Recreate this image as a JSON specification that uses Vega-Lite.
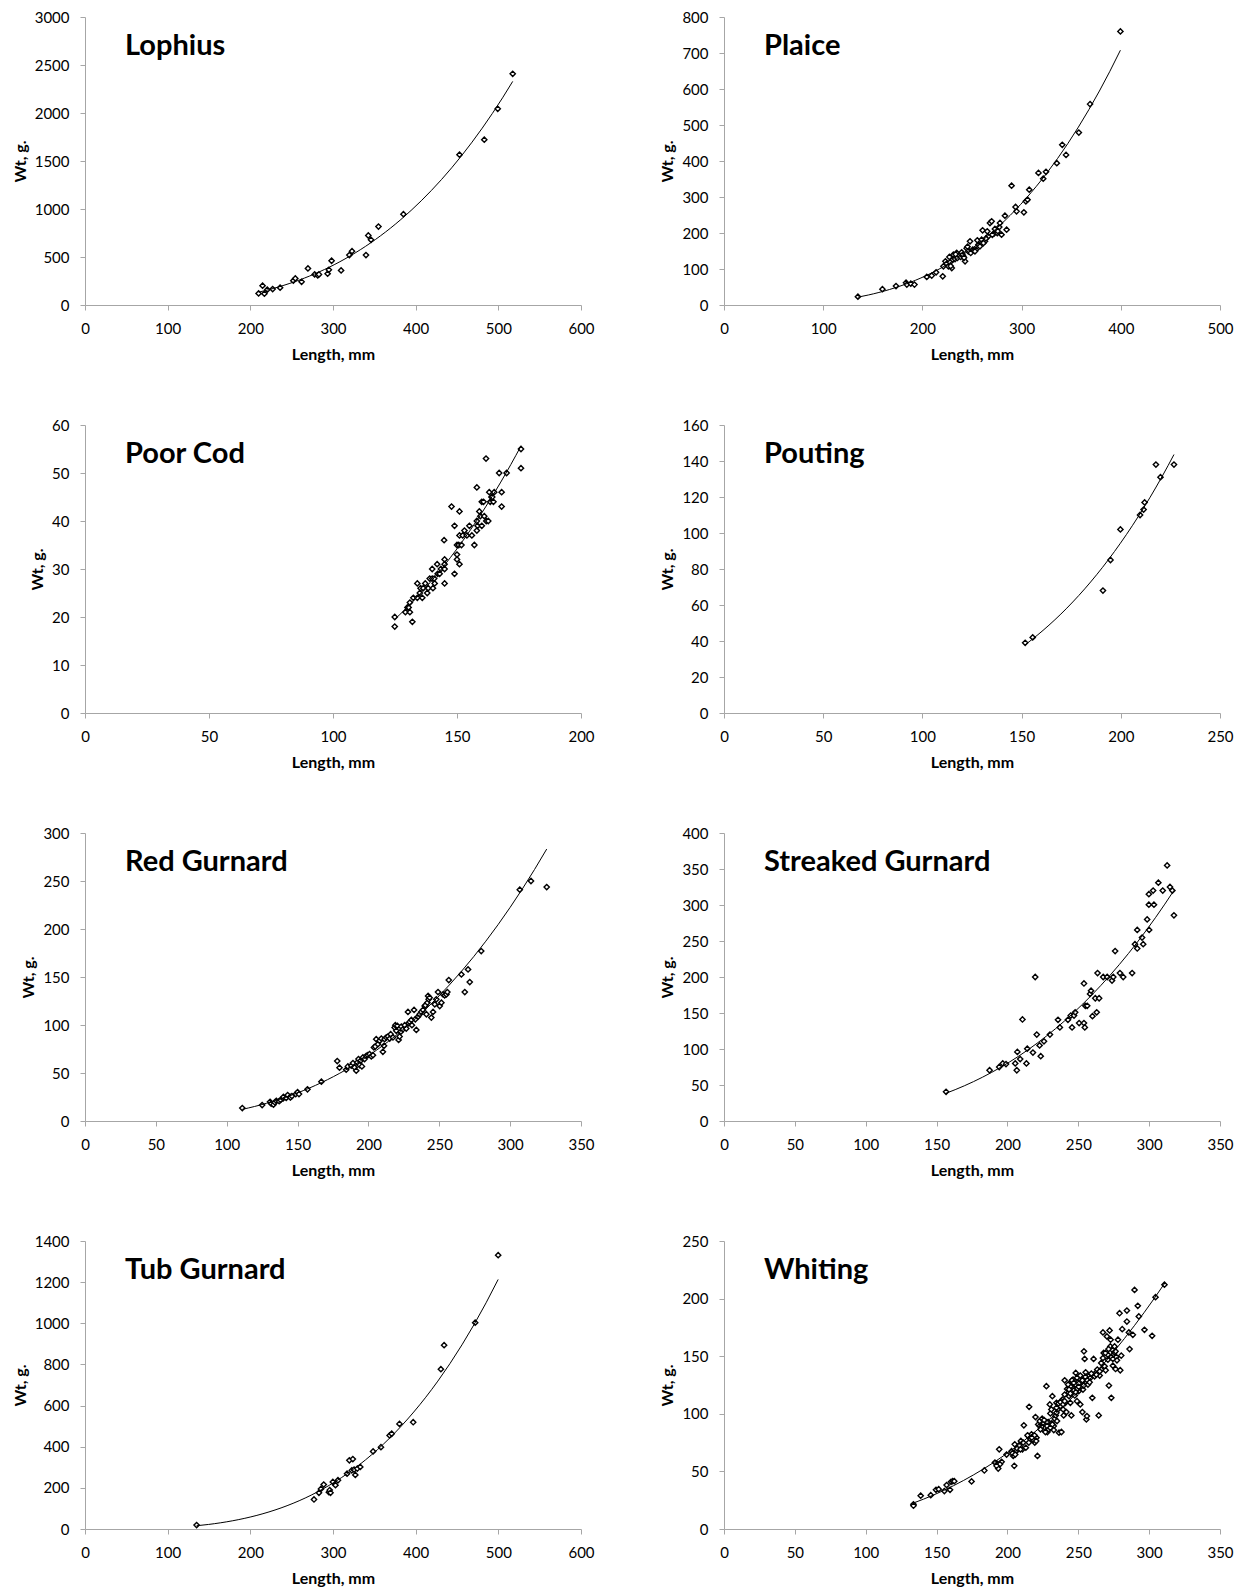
{
  "$schema": "https://vega.github.io/schema/vega-lite/v6.json",
  "background": "white",
  "padding": {"left": 12, "top": 10, "right": 5, "bottom": 5},
  "columns": 2,
  "spacing": {"row": 120, "column": 143},
  "bounds": "flush",
  "align": "all",
  "concat": [
    {
      "data": {"name": "lophius"},
      "title": "Lophius",
      "width": 496, "height": 288,
      "encoding": {
        "x": {"field": "length", "type": "quantitative", "title": "Length, mm", "scale": {"domain": [0, 600], "nice": false}, "axis": {"values": [0, 100, 200, 300, 400, 500, 600], "format": "d"}},
        "y": {"field": "weight", "type": "quantitative", "title": "Wt, g.", "scale": {"domain": [0, 3000], "nice": false}, "axis": {"values": [0, 500, 1000, 1500, 2000, 2500, 3000], "format": "d"}}
      },
      "layer": [
        {"mark": {"type": "point", "shape": "diamond", "size": 28, "filled": false, "fill": "white", "fillOpacity": 1, "stroke": "black", "strokeWidth": 1.4, "opacity": 1}},
        {"transform": [{"regression": "weight", "on": "length", "method": "pow"}], "mark": {"type": "line", "color": "black", "strokeWidth": 1}}
      ]
    },
    {
      "data": {"name": "plaice"},
      "title": "Plaice",
      "width": 496, "height": 288,
      "encoding": {
        "x": {"field": "length", "type": "quantitative", "title": "Length, mm", "scale": {"domain": [0, 500], "nice": false}, "axis": {"values": [0, 100, 200, 300, 400, 500], "format": "d"}},
        "y": {"field": "weight", "type": "quantitative", "title": "Wt, g.", "scale": {"domain": [0, 800], "nice": false}, "axis": {"values": [0, 100, 200, 300, 400, 500, 600, 700, 800], "format": "d"}}
      },
      "layer": [
        {"mark": {"type": "point", "shape": "diamond", "size": 28, "filled": false, "fill": "white", "fillOpacity": 1, "stroke": "black", "strokeWidth": 1.4, "opacity": 1}},
        {"transform": [{"regression": "weight", "on": "length", "method": "pow"}], "mark": {"type": "line", "color": "black", "strokeWidth": 1}}
      ]
    },
    {
      "data": {"name": "poorcod"},
      "title": "Poor Cod",
      "width": 496, "height": 288,
      "encoding": {
        "x": {"field": "length", "type": "quantitative", "title": "Length, mm", "scale": {"domain": [0, 200], "nice": false}, "axis": {"values": [0, 50, 100, 150, 200], "format": "d"}},
        "y": {"field": "weight", "type": "quantitative", "title": "Wt, g.", "scale": {"domain": [0, 60], "nice": false}, "axis": {"values": [0, 10, 20, 30, 40, 50, 60], "format": "d"}}
      },
      "layer": [
        {"mark": {"type": "point", "shape": "diamond", "size": 28, "filled": false, "fill": "white", "fillOpacity": 1, "stroke": "black", "strokeWidth": 1.4, "opacity": 1}},
        {"transform": [{"regression": "weight", "on": "length", "method": "pow"}], "mark": {"type": "line", "color": "black", "strokeWidth": 1}}
      ]
    },
    {
      "data": {"name": "pouting"},
      "title": "Pouting",
      "width": 496, "height": 288,
      "encoding": {
        "x": {"field": "length", "type": "quantitative", "title": "Length, mm", "scale": {"domain": [0, 250], "nice": false}, "axis": {"values": [0, 50, 100, 150, 200, 250], "format": "d"}},
        "y": {"field": "weight", "type": "quantitative", "title": "Wt, g.", "scale": {"domain": [0, 160], "nice": false}, "axis": {"values": [0, 20, 40, 60, 80, 100, 120, 140, 160], "format": "d"}}
      },
      "layer": [
        {"mark": {"type": "point", "shape": "diamond", "size": 28, "filled": false, "fill": "white", "fillOpacity": 1, "stroke": "black", "strokeWidth": 1.4, "opacity": 1}},
        {"transform": [{"regression": "weight", "on": "length", "method": "pow"}], "mark": {"type": "line", "color": "black", "strokeWidth": 1}}
      ]
    },
    {
      "data": {"name": "redgurnard"},
      "title": "Red Gurnard",
      "width": 496, "height": 288,
      "encoding": {
        "x": {"field": "length", "type": "quantitative", "title": "Length, mm", "scale": {"domain": [0, 350], "nice": false}, "axis": {"values": [0, 50, 100, 150, 200, 250, 300, 350], "format": "d"}},
        "y": {"field": "weight", "type": "quantitative", "title": "Wt, g.", "scale": {"domain": [0, 300], "nice": false}, "axis": {"values": [0, 50, 100, 150, 200, 250, 300], "format": "d"}}
      },
      "layer": [
        {"mark": {"type": "point", "shape": "diamond", "size": 28, "filled": false, "fill": "white", "fillOpacity": 1, "stroke": "black", "strokeWidth": 1.4, "opacity": 1}},
        {"transform": [{"regression": "weight", "on": "length", "method": "pow"}], "mark": {"type": "line", "color": "black", "strokeWidth": 1}}
      ]
    },
    {
      "data": {"name": "streakedgurnard"},
      "title": "Streaked Gurnard",
      "width": 496, "height": 288,
      "encoding": {
        "x": {"field": "length", "type": "quantitative", "title": "Length, mm", "scale": {"domain": [0, 350], "nice": false}, "axis": {"values": [0, 50, 100, 150, 200, 250, 300, 350], "format": "d"}},
        "y": {"field": "weight", "type": "quantitative", "title": "Wt, g.", "scale": {"domain": [0, 400], "nice": false}, "axis": {"values": [0, 50, 100, 150, 200, 250, 300, 350, 400], "format": "d"}}
      },
      "layer": [
        {"mark": {"type": "point", "shape": "diamond", "size": 28, "filled": false, "fill": "white", "fillOpacity": 1, "stroke": "black", "strokeWidth": 1.4, "opacity": 1}},
        {"transform": [{"regression": "weight", "on": "length", "method": "pow"}], "mark": {"type": "line", "color": "black", "strokeWidth": 1}}
      ]
    },
    {
      "data": {"name": "tubgurnard"},
      "title": "Tub Gurnard",
      "width": 496, "height": 288,
      "encoding": {
        "x": {"field": "length", "type": "quantitative", "title": "Length, mm", "scale": {"domain": [0, 600], "nice": false}, "axis": {"values": [0, 100, 200, 300, 400, 500, 600], "format": "d"}},
        "y": {"field": "weight", "type": "quantitative", "title": "Wt, g.", "scale": {"domain": [0, 1400], "nice": false}, "axis": {"values": [0, 200, 400, 600, 800, 1000, 1200, 1400], "format": "d"}}
      },
      "layer": [
        {"mark": {"type": "point", "shape": "diamond", "size": 28, "filled": false, "fill": "white", "fillOpacity": 1, "stroke": "black", "strokeWidth": 1.4, "opacity": 1}},
        {"transform": [{"regression": "weight", "on": "length", "method": "pow"}], "mark": {"type": "line", "color": "black", "strokeWidth": 1}}
      ]
    },
    {
      "data": {"name": "whiting"},
      "title": "Whiting",
      "width": 496, "height": 288,
      "encoding": {
        "x": {"field": "length", "type": "quantitative", "title": "Length, mm", "scale": {"domain": [0, 350], "nice": false}, "axis": {"values": [0, 50, 100, 150, 200, 250, 300, 350], "format": "d"}},
        "y": {"field": "weight", "type": "quantitative", "title": "Wt, g.", "scale": {"domain": [0, 250], "nice": false}, "axis": {"values": [0, 50, 100, 150, 200, 250], "format": "d"}}
      },
      "layer": [
        {"mark": {"type": "point", "shape": "diamond", "size": 28, "filled": false, "fill": "white", "fillOpacity": 1, "stroke": "black", "strokeWidth": 1.4, "opacity": 1}},
        {"transform": [{"regression": "weight", "on": "length", "method": "pow"}], "mark": {"type": "line", "color": "black", "strokeWidth": 1}}
      ]
    }
  ],
  "datasets": {
    "lophius": [
      {"length": 210, "weight": 121}, {"length": 214.8, "weight": 201}, {"length": 217, "weight": 118}, {"length": 220.5, "weight": 159},
      {"length": 227, "weight": 166}, {"length": 236, "weight": 180}, {"length": 252, "weight": 253}, {"length": 254.4, "weight": 277},
      {"length": 262, "weight": 242}, {"length": 269.7, "weight": 381}, {"length": 277.8, "weight": 319}, {"length": 281.6, "weight": 308},
      {"length": 283, "weight": 319}, {"length": 293.5, "weight": 326}, {"length": 295, "weight": 367}, {"length": 298.3, "weight": 461},
      {"length": 309.8, "weight": 360}, {"length": 319.8, "weight": 520}, {"length": 323, "weight": 561}, {"length": 339.9, "weight": 520},
      {"length": 342.7, "weight": 724}, {"length": 346, "weight": 679}, {"length": 355, "weight": 817}, {"length": 385.2, "weight": 946},
      {"length": 453, "weight": 1566}, {"length": 483, "weight": 1722}, {"length": 499.3, "weight": 2044}, {"length": 517.4, "weight": 2408}
    ],
    "plaice": [
      {"length": 135, "weight": 23}, {"length": 159.7, "weight": 44}, {"length": 173.4, "weight": 52.5}, {"length": 183.5, "weight": 62},
      {"length": 184.3, "weight": 56.6}, {"length": 188.3, "weight": 59.3}, {"length": 192, "weight": 56.6}, {"length": 204.4, "weight": 77.9},
      {"length": 209.4, "weight": 81.6}, {"length": 213.8, "weight": 90.8}, {"length": 220.5, "weight": 79.7}, {"length": 221.2, "weight": 107.5},
      {"length": 223.2, "weight": 121.3}, {"length": 224.5, "weight": 114.9}, {"length": 226.2, "weight": 107.5}, {"length": 227.2, "weight": 133.4},
      {"length": 227.9, "weight": 118.6}, {"length": 229.6, "weight": 102.8}, {"length": 230.6, "weight": 126}, {"length": 231.2, "weight": 139.9},
      {"length": 232.9, "weight": 127.8}, {"length": 234.6, "weight": 144.5}, {"length": 235.3, "weight": 130.6}, {"length": 237.3, "weight": 137.1},
      {"length": 238.6, "weight": 133.4}, {"length": 239.6, "weight": 146.3}, {"length": 241.3, "weight": 135.2}, {"length": 243, "weight": 121.3},
      {"length": 244.6, "weight": 157.4}, {"length": 246.3, "weight": 149.1}, {"length": 248, "weight": 176.9}, {"length": 248.7, "weight": 144.5},
      {"length": 250.7, "weight": 153.7}, {"length": 252, "weight": 151.9}, {"length": 254, "weight": 153.7}, {"length": 255.4, "weight": 179.6},
      {"length": 256.4, "weight": 167.6}, {"length": 258, "weight": 163}, {"length": 259.7, "weight": 181.5}, {"length": 260.7, "weight": 207.4},
      {"length": 263.1, "weight": 176.9}, {"length": 265.4, "weight": 204.6}, {"length": 266.4, "weight": 190.7}, {"length": 268.1, "weight": 227.8},
      {"length": 269.8, "weight": 232.4}, {"length": 272.1, "weight": 198.1}, {"length": 273.1, "weight": 211.1}, {"length": 275.5, "weight": 200},
      {"length": 277.5, "weight": 216.6}, {"length": 278.2, "weight": 227.8}, {"length": 279.8, "weight": 195.4}, {"length": 283.2, "weight": 248.1},
      {"length": 284.9, "weight": 209.2}, {"length": 289.9, "weight": 331.4}, {"length": 293.9, "weight": 272.2}, {"length": 294.9, "weight": 260.1},
      {"length": 302.3, "weight": 257.4}, {"length": 304.3, "weight": 287.9}, {"length": 306, "weight": 292.5}, {"length": 307.7, "weight": 320.3},
      {"length": 317, "weight": 367}, {"length": 321.8, "weight": 351}, {"length": 324.6, "weight": 370}, {"length": 335.5, "weight": 394},
      {"length": 341, "weight": 445}, {"length": 344.8, "weight": 417}, {"length": 357.7, "weight": 479}, {"length": 369, "weight": 558},
      {"length": 399.6, "weight": 760},
      {"length": 228.5, "weight": 108}, {"length": 233.5, "weight": 141}, {"length": 240.5, "weight": 139}, {"length": 242, "weight": 131},
      {"length": 245.5, "weight": 162}, {"length": 253, "weight": 149}, {"length": 261.5, "weight": 172}, {"length": 264, "weight": 185},
      {"length": 270.5, "weight": 195}, {"length": 276, "weight": 205}
    ],
    "poorcod": [
      {"length": 124.9, "weight": 20}, {"length": 124.9, "weight": 18}, {"length": 129.2, "weight": 21}, {"length": 130, "weight": 22},
      {"length": 130.5, "weight": 22}, {"length": 131, "weight": 23}, {"length": 131, "weight": 21}, {"length": 132, "weight": 19},
      {"length": 132.4, "weight": 24}, {"length": 134, "weight": 27}, {"length": 134, "weight": 24}, {"length": 135, "weight": 25},
      {"length": 135.3, "weight": 26}, {"length": 136, "weight": 24}, {"length": 136.4, "weight": 26}, {"length": 137.2, "weight": 27},
      {"length": 138, "weight": 25}, {"length": 138.4, "weight": 26}, {"length": 139, "weight": 28}, {"length": 140, "weight": 28},
      {"length": 140, "weight": 30}, {"length": 140.3, "weight": 26}, {"length": 140.8, "weight": 28}, {"length": 141, "weight": 27},
      {"length": 142, "weight": 31}, {"length": 142.2, "weight": 29}, {"length": 143, "weight": 29}, {"length": 143.5, "weight": 30},
      {"length": 144.8, "weight": 36}, {"length": 145, "weight": 32}, {"length": 145, "weight": 31}, {"length": 145, "weight": 27},
      {"length": 145, "weight": 30}, {"length": 147.8, "weight": 43}, {"length": 149, "weight": 29}, {"length": 149, "weight": 39},
      {"length": 150, "weight": 33}, {"length": 150, "weight": 35}, {"length": 150, "weight": 32}, {"length": 150.7, "weight": 35},
      {"length": 151, "weight": 42}, {"length": 151, "weight": 37}, {"length": 151, "weight": 31}, {"length": 151.8, "weight": 35},
      {"length": 152.3, "weight": 37}, {"length": 153, "weight": 38}, {"length": 154, "weight": 37}, {"length": 155, "weight": 39},
      {"length": 156, "weight": 37}, {"length": 157, "weight": 35}, {"length": 158, "weight": 47}, {"length": 158, "weight": 40},
      {"length": 158, "weight": 38}, {"length": 158.3, "weight": 39}, {"length": 159, "weight": 42}, {"length": 159.4, "weight": 41},
      {"length": 160, "weight": 44}, {"length": 160, "weight": 39}, {"length": 160.7, "weight": 44}, {"length": 161, "weight": 41},
      {"length": 161.7, "weight": 53}, {"length": 161.8, "weight": 40}, {"length": 162.6, "weight": 40}, {"length": 163, "weight": 46},
      {"length": 163.4, "weight": 44}, {"length": 163.9, "weight": 45}, {"length": 164.2, "weight": 45}, {"length": 164.7, "weight": 44},
      {"length": 165, "weight": 46}, {"length": 167, "weight": 50}, {"length": 168, "weight": 46}, {"length": 168, "weight": 43},
      {"length": 170, "weight": 50}, {"length": 175.8, "weight": 55}, {"length": 175.8, "weight": 51}
    ],
    "pouting": [
      {"length": 151.8, "weight": 39}, {"length": 155.6, "weight": 42}, {"length": 191, "weight": 68}, {"length": 194.8, "weight": 85},
      {"length": 199.8, "weight": 102}, {"length": 209.7, "weight": 110}, {"length": 211.5, "weight": 113}, {"length": 212, "weight": 117},
      {"length": 217.7, "weight": 138}, {"length": 220, "weight": 131}, {"length": 226.8, "weight": 138}
    ],
    "redgurnard": [
      {"length": 111, "weight": 13.5}, {"length": 125, "weight": 16.6}, {"length": 130.6, "weight": 20}, {"length": 131.4, "weight": 18},
      {"length": 133, "weight": 17}, {"length": 134, "weight": 19.4}, {"length": 135, "weight": 21}, {"length": 137, "weight": 20.7},
      {"length": 138, "weight": 22}, {"length": 139.8, "weight": 23.5}, {"length": 140, "weight": 25}, {"length": 142, "weight": 24},
      {"length": 143, "weight": 27}, {"length": 144.8, "weight": 25}, {"length": 145, "weight": 24.5}, {"length": 146, "weight": 26},
      {"length": 148.7, "weight": 28}, {"length": 150, "weight": 30}, {"length": 151, "weight": 28}, {"length": 157, "weight": 33},
      {"length": 166.8, "weight": 41},
      {"length": 178, "weight": 62.4}, {"length": 179.6, "weight": 55.5}, {"length": 184.3, "weight": 53.4}, {"length": 185.5, "weight": 56.9},
      {"length": 187.9, "weight": 57.6}, {"length": 189.1, "weight": 60.3}, {"length": 190.2, "weight": 55.8}, {"length": 191.4, "weight": 52.4},
      {"length": 192.1, "weight": 61}, {"length": 193, "weight": 64.5}, {"length": 193.8, "weight": 58.3}, {"length": 194.5, "weight": 62.8},
      {"length": 195.4, "weight": 56.9}, {"length": 196.1, "weight": 66.2}, {"length": 197.3, "weight": 64.5}, {"length": 198.5, "weight": 67.9},
      {"length": 199.6, "weight": 68.6}, {"length": 200.8, "weight": 69.7}, {"length": 202, "weight": 67.3}, {"length": 203.2, "weight": 68.6},
      {"length": 203.9, "weight": 76.6}, {"length": 204.8, "weight": 77.6}, {"length": 205.5, "weight": 85.2}, {"length": 206.7, "weight": 80},
      {"length": 207.9, "weight": 83.5}, {"length": 209.1, "weight": 85.9}, {"length": 210.2, "weight": 72.1}, {"length": 211, "weight": 78.3},
      {"length": 211.4, "weight": 85.2}, {"length": 212.6, "weight": 87}, {"length": 213.8, "weight": 88}, {"length": 215, "weight": 85.9},
      {"length": 215.7, "weight": 90.4}, {"length": 217.3, "weight": 87}, {"length": 218.5, "weight": 97.3}, {"length": 219, "weight": 99.8},
      {"length": 219.7, "weight": 93.9}, {"length": 220.4, "weight": 99.1}, {"length": 221.3, "weight": 84.5}, {"length": 222, "weight": 88},
      {"length": 222.7, "weight": 92.8}, {"length": 223.2, "weight": 98.4}, {"length": 224.4, "weight": 95.6}, {"length": 225.6, "weight": 99.8},
      {"length": 226.7, "weight": 96.3}, {"length": 227.9, "weight": 113.6}, {"length": 228.4, "weight": 101.8}, {"length": 229.1, "weight": 103.2},
      {"length": 230.3, "weight": 105.3}, {"length": 230.7, "weight": 99.8}, {"length": 232.2, "weight": 115.7}, {"length": 233.1, "weight": 106},
      {"length": 233.8, "weight": 94.9}, {"length": 235, "weight": 108.7}, {"length": 236.2, "weight": 111.2}, {"length": 237.3, "weight": 113.6},
      {"length": 238.5, "weight": 115.7}, {"length": 239.7, "weight": 119.8}, {"length": 240.2, "weight": 120.5}, {"length": 240.9, "weight": 111.2},
      {"length": 241.6, "weight": 123.3}, {"length": 242.1, "weight": 130.2}, {"length": 242.5, "weight": 126.7}, {"length": 243.2, "weight": 128.5},
      {"length": 244.4, "weight": 107.7}, {"length": 245.6, "weight": 113.6}, {"length": 246.8, "weight": 121.5}, {"length": 247.9, "weight": 126.7},
      {"length": 249.1, "weight": 134.3}, {"length": 250.3, "weight": 119.8}, {"length": 251.5, "weight": 123.3}, {"length": 252.7, "weight": 131.9},
      {"length": 253.8, "weight": 130.9}, {"length": 255, "weight": 131.9}, {"length": 255.7, "weight": 134.3}, {"length": 256.7, "weight": 146.8},
      {"length": 265.6, "weight": 152.7}, {"length": 268, "weight": 134.3}, {"length": 270.3, "weight": 157.9}, {"length": 271.5, "weight": 144.7},
      {"length": 279.6, "weight": 177}, {"length": 306.8, "weight": 241}, {"length": 314.7, "weight": 250}, {"length": 325.8, "weight": 243.7}
    ],
    "streakedgurnard": [
      {"length": 156.7, "weight": 40.5}, {"length": 187.4, "weight": 70.5}, {"length": 194.2, "weight": 75}, {"length": 196.7, "weight": 80},
      {"length": 199, "weight": 79}, {"length": 205.5, "weight": 80}, {"length": 206.6, "weight": 70.5}, {"length": 207, "weight": 96},
      {"length": 209, "weight": 86}, {"length": 210.6, "weight": 141}, {"length": 213.4, "weight": 80}, {"length": 214, "weight": 100.5},
      {"length": 218, "weight": 95}, {"length": 219.6, "weight": 200}, {"length": 220.7, "weight": 120}, {"length": 222.7, "weight": 105},
      {"length": 223.5, "weight": 90}, {"length": 225.8, "weight": 110.6}, {"length": 230, "weight": 120}, {"length": 235.7, "weight": 140.5},
      {"length": 237, "weight": 130}, {"length": 242.7, "weight": 140.5}, {"length": 244.7, "weight": 146.5}, {"length": 245.6, "weight": 130},
      {"length": 247, "weight": 146.5}, {"length": 247.8, "weight": 151}, {"length": 250.6, "weight": 136}, {"length": 254, "weight": 191},
      {"length": 254, "weight": 136}, {"length": 254.6, "weight": 130}, {"length": 255, "weight": 160}, {"length": 256.3, "weight": 160},
      {"length": 258.3, "weight": 176.5}, {"length": 259, "weight": 181}, {"length": 260, "weight": 145.6}, {"length": 262, "weight": 170.5},
      {"length": 263, "weight": 151}, {"length": 263.6, "weight": 205.5}, {"length": 264.7, "weight": 170.5}, {"length": 267.6, "weight": 200},
      {"length": 270.4, "weight": 200}, {"length": 273.8, "weight": 195}, {"length": 274.7, "weight": 200}, {"length": 276, "weight": 236},
      {"length": 279.4, "weight": 205.5}, {"length": 281.7, "weight": 200}, {"length": 288, "weight": 205.5}, {"length": 290, "weight": 245.6},
      {"length": 291.6, "weight": 239.6}, {"length": 291.6, "weight": 265.4}, {"length": 295, "weight": 254.8}, {"length": 295.8, "weight": 245.6},
      {"length": 298.6, "weight": 280}, {"length": 300, "weight": 265.4}, {"length": 299.8, "weight": 300.5}, {"length": 299.8, "weight": 315},
      {"length": 302.8, "weight": 320}, {"length": 303.4, "weight": 300.5}, {"length": 306.5, "weight": 331}, {"length": 309.6, "weight": 320},
      {"length": 312.7, "weight": 355}, {"length": 314.7, "weight": 325}, {"length": 316.4, "weight": 320}, {"length": 317.5, "weight": 285.7}
    ],
    "tubgurnard": [
      {"length": 135, "weight": 19}, {"length": 277, "weight": 143.5}, {"length": 283, "weight": 176}, {"length": 285.4, "weight": 195},
      {"length": 288.8, "weight": 216}, {"length": 295, "weight": 179}, {"length": 296, "weight": 189}, {"length": 297, "weight": 176},
      {"length": 299.8, "weight": 229}, {"length": 303, "weight": 213}, {"length": 306, "weight": 237}, {"length": 317, "weight": 269},
      {"length": 319.8, "weight": 334}, {"length": 324, "weight": 340}, {"length": 322.7, "weight": 285}, {"length": 325.5, "weight": 289},
      {"length": 327, "weight": 263}, {"length": 329.4, "weight": 293.5}, {"length": 333, "weight": 301.6}, {"length": 348.5, "weight": 377},
      {"length": 358, "weight": 398}, {"length": 368.5, "weight": 455}, {"length": 371, "weight": 463}, {"length": 380.4, "weight": 511},
      {"length": 397, "weight": 519}, {"length": 430.5, "weight": 777}, {"length": 434.4, "weight": 893.5}, {"length": 472, "weight": 1003},
      {"length": 499.8, "weight": 1331}
    ],
    "whiting": [
      {"length": 133.7, "weight": 21.4}, {"length": 133.7, "weight": 20.2}, {"length": 138.8, "weight": 28.9}, {"length": 145.9, "weight": 29.4},
      {"length": 149.6, "weight": 34}, {"length": 151.5, "weight": 34.6}, {"length": 155.5, "weight": 32.9}, {"length": 157.1, "weight": 38.1},
      {"length": 159.5, "weight": 34}, {"length": 160.2, "weight": 41}, {"length": 161.4, "weight": 41.5}, {"length": 162.5, "weight": 41.5},
      {"length": 174.7, "weight": 41.3}, {"length": 183.7, "weight": 50.8}, {"length": 191.2, "weight": 57.7}, {"length": 193, "weight": 56.5},
      {"length": 193.5, "weight": 52.5}, {"length": 194.2, "weight": 69.2}, {"length": 195.9, "weight": 58.3}, {"length": 199.4, "weight": 64.6},
      {"length": 202.9, "weight": 67.5}, {"length": 204.1, "weight": 63.4}, {"length": 204.8, "weight": 54.8}, {"length": 205.2, "weight": 73.5},
      {"length": 206.4, "weight": 67.8}, {"length": 208.3, "weight": 69.8}, {"length": 209.5, "weight": 76.4}, {"length": 210.6, "weight": 69.2},
      {"length": 211.6, "weight": 90}, {"length": 213, "weight": 70.6}, {"length": 214.6, "weight": 80.7}, {"length": 215.3, "weight": 106.1},
      {"length": 216.3, "weight": 77.8}, {"length": 217, "weight": 82.2}, {"length": 218.1, "weight": 80.7}, {"length": 219.3, "weight": 75},
      {"length": 219.8, "weight": 97.2}, {"length": 220.5, "weight": 79.3}, {"length": 221.2, "weight": 63.4}, {"length": 221.7, "weight": 90.8},
      {"length": 222.8, "weight": 89.4}, {"length": 224, "weight": 92.3}, {"length": 224.7, "weight": 93.7}, {"length": 225.2, "weight": 86.5},
      {"length": 226.3, "weight": 90.8}, {"length": 227.1, "weight": 89.4}, {"length": 227.5, "weight": 124}, {"length": 228.2, "weight": 84.2},
      {"length": 228.9, "weight": 92.8}, {"length": 229.9, "weight": 108.1}, {"length": 230.3, "weight": 100.3}, {"length": 231, "weight": 103.8},
      {"length": 231.3, "weight": 91.7}, {"length": 231.7, "weight": 115.3}, {"length": 232.7, "weight": 89.4}, {"length": 233.4, "weight": 95.7},
      {"length": 234.1, "weight": 98.6}, {"length": 234.6, "weight": 109.5}, {"length": 235, "weight": 93.7}, {"length": 235.7, "weight": 103.8},
      {"length": 236.4, "weight": 83.6}, {"length": 237.4, "weight": 106.7}, {"length": 238.1, "weight": 84.2}, {"length": 238.8, "weight": 112.4},
      {"length": 239.3, "weight": 103.8}, {"length": 239.7, "weight": 98.6}, {"length": 240.4, "weight": 129.1}, {"length": 240.9, "weight": 109.5},
      {"length": 241.6, "weight": 101.5}, {"length": 242.1, "weight": 121.6}, {"length": 242.8, "weight": 117.6}, {"length": 243.5, "weight": 115.3},
      {"length": 243.9, "weight": 126.3}, {"length": 244.4, "weight": 109.5}, {"length": 245.1, "weight": 98.6}, {"length": 245.8, "weight": 119.6},
      {"length": 246.3, "weight": 129.7}, {"length": 246.8, "weight": 122.5}, {"length": 247.5, "weight": 115.9}, {"length": 248.2, "weight": 135.5},
      {"length": 248.6, "weight": 123.9}, {"length": 249.1, "weight": 111}, {"length": 249.8, "weight": 127.4}, {"length": 250.3, "weight": 119.6},
      {"length": 251, "weight": 130.3}, {"length": 251.4, "weight": 108.1}, {"length": 252.2, "weight": 125.4}, {"length": 252.9, "weight": 101.5},
      {"length": 253.3, "weight": 121.1}, {"length": 254, "weight": 154.2}, {"length": 254.5, "weight": 147.6}, {"length": 254.5, "weight": 129.7},
      {"length": 255.2, "weight": 136}, {"length": 255.7, "weight": 95.1}, {"length": 256.1, "weight": 98}, {"length": 256.8, "weight": 125.4},
      {"length": 257.5, "weight": 132.6}, {"length": 258.5, "weight": 131.1}, {"length": 259.9, "weight": 113.9}, {"length": 260.8, "weight": 147.6},
      {"length": 261.5, "weight": 132.6}, {"length": 262.7, "weight": 136}, {"length": 263.4, "weight": 138.4}, {"length": 264.4, "weight": 98.6},
      {"length": 265.1, "weight": 133.2}, {"length": 266.2, "weight": 138.4}, {"length": 267.4, "weight": 170.6}, {"length": 267.9, "weight": 152.8},
      {"length": 268.6, "weight": 141.2}, {"length": 269.3, "weight": 137.8}, {"length": 270.2, "weight": 167.2}, {"length": 270.9, "weight": 147},
      {"length": 271.6, "weight": 124.5}, {"length": 272.1, "weight": 172.4}, {"length": 272.6, "weight": 158.5}, {"length": 272.8, "weight": 164.3},
      {"length": 273.3, "weight": 113.9}, {"length": 274, "weight": 155.6}, {"length": 274.4, "weight": 141.8}, {"length": 274.9, "weight": 151.3},
      {"length": 275.6, "weight": 158.5}, {"length": 276.3, "weight": 138.9}, {"length": 276.8, "weight": 149.3}, {"length": 278, "weight": 164.3},
      {"length": 279.1, "weight": 187.3}, {"length": 279.6, "weight": 137.8}, {"length": 280.3, "weight": 150.5}, {"length": 281, "weight": 173.5},
      {"length": 284.3, "weight": 189.6}, {"length": 284.3, "weight": 180.1}, {"length": 285.7, "weight": 170.6}, {"length": 286.2, "weight": 156.2},
      {"length": 288.5, "weight": 168.6}, {"length": 289.7, "weight": 207.5}, {"length": 292, "weight": 193.7}, {"length": 292.7, "weight": 184.5},
      {"length": 296.7, "weight": 172.9}, {"length": 302.1, "weight": 167.7}, {"length": 304.5, "weight": 201.2}, {"length": 310.8, "weight": 212.1},
      {"length": 225.6, "weight": 91.7}, {"length": 226.6, "weight": 88}, {"length": 227.8, "weight": 92.8}, {"length": 228.5, "weight": 86.5},
      {"length": 229.4, "weight": 89.4}, {"length": 224, "weight": 88.8}, {"length": 244.6, "weight": 124}, {"length": 245.8, "weight": 126.8},
      {"length": 247, "weight": 120.5}, {"length": 247.9, "weight": 125.4}, {"length": 249.3, "weight": 121.6}, {"length": 250.5, "weight": 126.3},
      {"length": 251.7, "weight": 123.4}, {"length": 252.6, "weight": 128.3}, {"length": 218.1, "weight": 77.3}, {"length": 219.1, "weight": 81.3},
      {"length": 220.3, "weight": 76.4}, {"length": 203.6, "weight": 65.7}, {"length": 205.5, "weight": 64.6}, {"length": 206.9, "weight": 69.8},
      {"length": 270.9, "weight": 151.3}, {"length": 273.3, "weight": 149.3}, {"length": 275.6, "weight": 153.3}, {"length": 277.3, "weight": 146.4},
      {"length": 265.1, "weight": 136.9}, {"length": 262.7, "weight": 134}, {"length": 234.6, "weight": 100.9}, {"length": 238.1, "weight": 111},
      {"length": 240.4, "weight": 116.7}, {"length": 194.7, "weight": 56.2}, {"length": 192.3, "weight": 54.8},
      {"length": 222.8, "weight": 93.7}, {"length": 223.3, "weight": 86.5}, {"length": 224.5, "weight": 95.7}, {"length": 225.9, "weight": 94.6},
      {"length": 226.8, "weight": 84.2}, {"length": 228, "weight": 89.4}, {"length": 229.2, "weight": 86.5}, {"length": 230.3, "weight": 87.9},
      {"length": 231.7, "weight": 90.8}, {"length": 232.7, "weight": 85.9}, {"length": 242.8, "weight": 125.4}, {"length": 243.5, "weight": 121.1},
      {"length": 244.4, "weight": 117.6}, {"length": 245.6, "weight": 129.1}, {"length": 246.8, "weight": 126.8}, {"length": 248.2, "weight": 118.8},
      {"length": 249.1, "weight": 131.2}, {"length": 250.3, "weight": 123.4}, {"length": 251.4, "weight": 133.2}, {"length": 252.9, "weight": 129.1},
      {"length": 253.8, "weight": 124.5}, {"length": 255, "weight": 132}, {"length": 256.4, "weight": 129.1}, {"length": 258, "weight": 127.4},
      {"length": 259.2, "weight": 134.9}, {"length": 214.2, "weight": 81.3}, {"length": 215.1, "weight": 75}, {"length": 217.2, "weight": 79.3},
      {"length": 266.2, "weight": 144.1}, {"length": 267.4, "weight": 148.4}, {"length": 269.1, "weight": 152.8}, {"length": 271.4, "weight": 156.2},
      {"length": 274.4, "weight": 147.6}, {"length": 276.3, "weight": 154.2}, {"length": 208.3, "weight": 72.7}, {"length": 209.2, "weight": 69.2},
      {"length": 211.1, "weight": 75}, {"length": 234.6, "weight": 105.2}, {"length": 236, "weight": 109}, {"length": 237.4, "weight": 110.1},
      {"length": 239.3, "weight": 108.1}, {"length": 240.4, "weight": 111}
    ]
  },
  "config": {
    "font": "Lato",
    "view": {"stroke": null},
    "axis": {
      "grid": false,
      "domainColor": "#a6a6a6",
      "domainWidth": 1,
      "tickColor": "#a6a6a6",
      "tickWidth": 1,
      "tickSize": 5,
      "labelFont": "Lato",
      "labelFontSize": 15,
      "labelColor": "#000000",
      "labelPadding": 11,
      "labelFlush": false,
      "titleFont": "Lato",
      "titleFontSize": 16,
      "titleFontWeight": "bold",
      "titleColor": "#000000"
    },
    "axisX": {"titlePadding": 10},
    "axisY": {"titlePadding": 6},
    "title": {
      "font": "Lato",
      "fontSize": 29,
      "fontWeight": "bold",
      "color": "#000000",
      "anchor": "start",
      "frame": "group",
      "baseline": "alphabetic",
      "offset": 0,
      "dx": 40,
      "dy": 55
    }
  }
}
